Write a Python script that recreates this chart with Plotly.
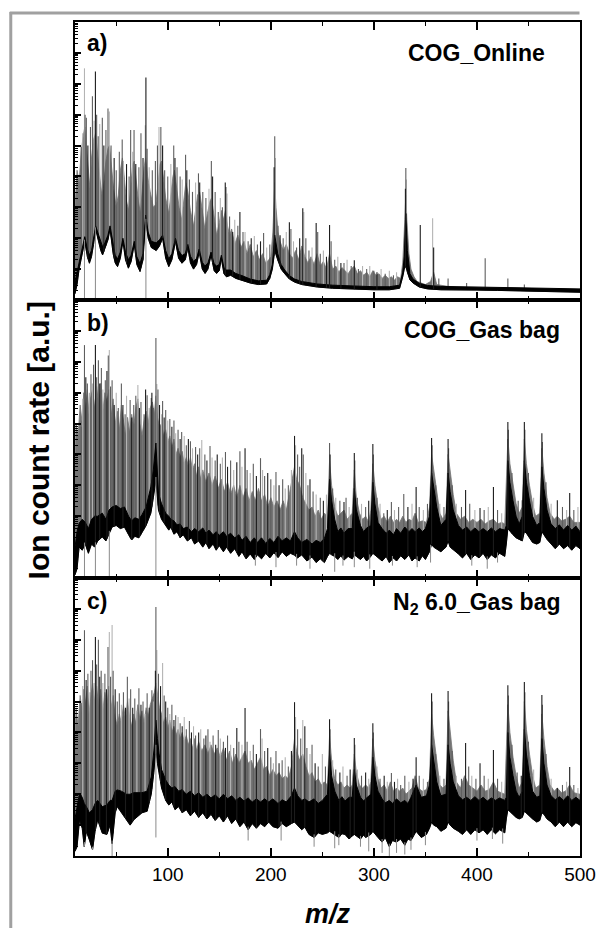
import numpy as np
import plotly.graph_objects as go
from plotly.subplots import make_subplots

MZ_RANGE = [10, 500]
X_TICKS = [100, 200, 300, 400, 500]
PANEL_LABELS = ["a)", "b)", "c)"]
PANEL_TITLES = ["COG_Online", "COG_Gas bag", "N<sub>2</sub> 6.0_Gas bag"]

# ---------------- Panel a : COG_Online ----------------
# noise band: (m/z, lower log10, upper log10)
a_band = [(10, 0.2, 0.6), (12, 0.5, 0.9), (14, 1.0, 1.3), (17, 1.5, 1.75), (19.5, 1.9, 2.05), (22, 1.4, 1.65),
          (24, 1.19, 1.45), (26, 1.4, 1.6), (28, 1.8, 1.95), (30, 2.3, 2.4), (33, 1.9, 2.1), (35, 1.6, 1.85),
          (36.8, 1.46, 1.72), (39, 1.65, 1.85), (42, 1.95, 2.1), (44, 2.3, 2.4), (47, 1.5, 1.75), (49, 1.2, 1.45),
          (51.3, 1.08, 1.33), (54, 1.35, 1.55), (56.5, 1.9, 2.0), (59, 1.3, 1.55), (61.8, 1.03, 1.3),
          (64.5, 1.25, 1.45), (67.5, 1.8, 1.9), (70, 1.15, 1.4), (73.1, 0.92, 1.18), (76, 1.3, 1.5),
          (78.5, 2.6, 2.75), (81, 2.0, 2.2), (84, 1.7, 1.9), (88.8, 1.6, 1.85), (92, 1.75, 1.95), (95, 2.0, 2.1),
          (98, 1.35, 1.6), (101, 1.08, 1.33), (104, 1.3, 1.5), (107.5, 1.9, 2.0), (110.5, 1.35, 1.6),
          (113.8, 1.19, 1.44), (117, 1.3, 1.5), (119.5, 1.7, 1.8), (122, 1.2, 1.42), (125, 1.0, 1.25),
          (128, 1.15, 1.35), (130.5, 1.55, 1.65), (133.5, 1.0, 1.22), (136.2, 0.86, 1.1), (139, 1.0, 1.2),
          (142, 1.45, 1.55), (145, 0.95, 1.17), (147.4, 0.86, 1.1), (150, 0.95, 1.15), (152, 1.35, 1.45),
          (154.5, 0.85, 1.05), (157, 0.75, 0.97), (161, 0.8, 0.97), (166, 0.7, 0.86), (172, 0.65, 0.79),
          (180, 0.55, 0.68), (188, 0.5, 0.62), (196, 0.52, 0.64), (199, 0.7, 0.82), (201.5, 1.0, 1.15),
          (203.8, 1.6, 2.1), (205, 1.5, 1.8), (206.7, 1.3, 1.5), (210, 1.0, 1.15), (213.5, 0.85, 0.97),
          (218, 0.68, 0.79), (223, 0.58, 0.68), (230, 0.5, 0.6), (245, 0.42, 0.52), (260, 0.38, 0.48),
          (280, 0.35, 0.45), (300, 0.33, 0.43), (315, 0.33, 0.43), (325, 0.38, 0.48), (328, 0.75, 0.9),
          (329.5, 1.0, 1.4), (331, 1.1, 2.8), (332.5, 0.9, 1.6), (335, 0.65, 0.85), (338, 0.55, 0.68),
          (344, 0.42, 0.54), (352, 0.36, 0.47), (365, 0.33, 0.44), (380, 0.32, 0.43), (400, 0.32, 0.43),
          (420, 0.31, 0.42), (440, 0.3, 0.41), (460, 0.28, 0.39), (480, 0.27, 0.38), (500, 0.25, 0.36)]
# upper edge of the dense gray signal: (m/z, log10)
a_bulk = [(10, 3.0), (12, 4.2), (14, 3.8), (16, 4.8), (18, 5.3), (19.5, 5.6), (21, 5.0), (23, 4.3), (24.5, 3.6),
          (26, 4.6), (28, 5.2), (30, 5.4), (32, 4.6), (34, 4.0), (36, 3.4), (37.5, 3.6), (40, 4.5), (42, 4.9),
          (43.5, 5.0), (45.5, 4.3), (47.5, 3.6), (50, 3.0), (52, 3.4), (54, 4.2), (56, 4.6), (58, 3.9), (60, 3.2),
          (62, 2.9), (64, 3.8), (66, 4.4), (67.5, 4.5), (69.5, 3.8), (71.5, 3.2), (73.5, 2.8), (75, 3.5),
          (77, 4.3), (78.5, 4.6), (80.5, 4.0), (83, 3.5), (86, 3.0), (88.5, 3.1), (90.5, 3.8), (92.5, 4.4),
          (94, 4.5), (96, 3.9), (98, 3.3), (101, 2.8), (103, 3.4), (105, 4.0), (106.5, 4.2), (108.5, 3.6),
          (111, 3.0), (113.5, 2.6), (115.5, 3.3), (117.5, 3.8), (119.5, 3.5), (122, 2.9), (125, 2.4), (127, 3.0),
          (129, 3.4), (131, 3.5), (133.5, 2.9), (136, 2.3), (138.5, 2.8), (141, 3.2), (142.5, 3.3), (145, 2.7),
          (147.5, 2.1), (150, 2.5), (152, 2.9), (154, 2.6), (156, 2.9), (158, 2.4), (160, 2.1), (162, 2.3),
          (165, 1.8), (168, 2.1), (171, 1.7), (174, 1.9), (177, 1.5), (180, 1.8), (183, 1.4), (186, 1.6),
          (189, 1.3), (192, 1.5), (195, 1.2), (198, 1.3), (200, 1.4), (202, 2.2), (203.8, 3.8), (205, 3.0),
          (207, 2.2), (209, 1.9), (212, 1.6), (215, 1.8), (218, 1.5), (221, 1.35), (224, 1.6), (227, 1.3),
          (230, 1.75), (233, 1.4), (236, 1.2), (239, 1.4), (242, 1.15), (245, 1.5), (248, 1.1), (251, 1.25),
          (254, 1.0), (257, 1.5), (260, 1.0), (263, 1.1), (266, 0.9), (269, 1.05), (272, 0.95), (275, 0.85),
          (278, 1.0), (281, 1.1), (284, 0.85), (287, 0.95), (290, 0.8), (293, 0.9), (296, 0.75), (299, 0.95),
          (302, 0.8), (305, 0.85), (308, 0.7), (311, 0.8), (314, 0.7), (317, 0.75), (320, 0.65), (323, 0.75),
          (326, 0.7), (328, 1.2), (330, 2.6), (331, 3.4), (332, 2.6), (334, 1.5), (336, 1.0), (339, 0.75),
          (342, 0.6), (346, 0.55), (350, 0.5), (355, 0.6), (358, 0.9), (361, 0.5), (370, 0.45), (380, 0.42),
          (400, 0.42), (420, 0.4), (440, 0.38), (460, 0.36), (480, 0.35), (500, 0.33)]
a_scan_light = [(17.5, 5.4), (19.2, 7.5), (28.5, 5.8), (34, 5.7), (43.3, 6.1), (57, 4.5), (66, 4.8), (78.2, 5.66),
                (82, 4.3), (91.5, 5.6), (103, 4.4), (114, 3.9), (127, 3.8), (140, 3.6), (151, 3.3), (157.5, 3.45),
                (165, 2.6), (175, 2.2), (184, 2.07), (196, 1.7), (204.5, 4.6), (215, 2.2), (222, 1.9), (232, 2.85),
                (240, 1.7), (251, 1.6), (265, 1.4), (274, 1.3), (289, 1.1), (296, 1.1), (307, 1.0), (315, 0.95),
                (322, 0.9), (331.5, 3.9), (357, 2.65)]
a_scan_mid = [(16, 4.95), (19.8, 6.0), (21, 5.9), (25, 5.6), (26.9, 6.6), (31, 6.0), (32.5, 5.3), (36.5, 5.9),
              (40, 5.5), (42, 6.2), (45, 5.0), (50, 4.2), (53, 4.8), (55.8, 5.2), (62.5, 4.0), (64, 5.5),
              (67.3, 5.5), (72, 4.3), (74, 5.4), (80, 4.9), (85, 4.2), (88, 4.5), (90, 5.0), (93.3, 5.6), (97, 4.2),
              (100, 4.0), (105.8, 5.0), (109, 4.3), (112, 4.0), (117.3, 4.7), (121, 3.9), (124, 3.5), (129.8, 4.1),
              (134, 3.5), (137, 3.3), (142.3, 4.5), (146, 3.5), (149, 2.85), (153, 3.0), (156.5, 3.66), (160, 2.7),
              (168, 2.4), (173, 2.2), (178, 1.9), (187, 1.8), (193, 2.17), (199, 1.8), (203.8, 5.3), (207, 2.4),
              (212, 2.0), (219.5, 2.3), (225, 1.7), (234, 2.0), (237, 1.6), (245.5, 2.2), (248, 1.5),
              (258.5, 1.9), (262, 1.3), (271, 1.2), (278, 1.1), (285, 1.0), (293, 1.0), (300, 0.95), (311, 0.85),
              (319, 0.8), (331, 4.27), (363, 0.7), (372, 0.7), (390, 0.55), (408, 1.35), (430, 0.7), (446, 0.5)]
a_scan_dark = [(22.5, 5.0), (29.8, 7.4), (38, 5.0), (48, 4.6), (60, 4.4), (69, 4.4), (76, 4.6), (78.8, 7.2),
               (95, 5.0), (107, 4.6), (118.5, 4.2), (131, 3.8), (143.5, 4.0), (155.8, 3.8), (163, 2.2), (170, 2.85),
               (181, 2.0), (190, 1.9), (203.2, 4.3), (209, 2.1), (218, 2.52), (228, 2.0), (231, 2.97), (244, 2.49),
               (254, 1.4), (257, 2.43), (268, 1.2), (281, 1.29), (303, 0.9), (330.6, 3.6), (345, 2.43), (358, 1.7)]
a_dips = [(19.2, -0.3), (29.8, -0.3), (78.8, -0.3)]

# ---------------- Panel b : COG_Gas bag ----------------
b_band = [(10, 0.1, 1.0), (12, 0.3, 1.5), (14, 1.0, 1.77), (17, 0.9, 1.9), (20, 1.1, 1.8), (23, 0.8, 1.6),
          (26, 1.1, 1.9), (29, 1.0, 2.0), (32, 1.2, 2.0), (36.5, 1.33, 2.1), (40, 1.2, 1.9), (43, 1.4, 2.2),
          (46, 1.65, 2.3), (50, 1.7, 2.35), (54, 1.6, 2.25), (58, 1.65, 2.3), (62, 1.4, 2.0), (65, 1.23, 1.85),
          (68, 1.35, 1.95), (72, 1.3, 1.9), (75, 1.46, 2.05), (79, 1.7, 2.3), (83.6, 2.1, 2.95), (86, 2.6, 3.5),
          (88.5, 3.17, 4.37), (90, 2.5, 3.3), (91, 2.2, 2.75), (94, 1.9, 2.4), (98, 1.72, 2.1), (101, 1.55, 2.0),
          (103, 1.65, 1.9), (106, 1.42, 1.85), (109, 1.5, 1.72), (112, 1.3, 1.75), (115, 1.4, 1.6),
          (119, 1.2, 1.65), (123, 1.3, 1.5), (126, 1.1, 1.6), (130, 1.2, 1.5), (134, 1.0, 1.62), (137, 1.15, 1.45),
          (140, 0.95, 1.55), (144, 1.1, 1.4), (147, 0.9, 1.5), (150, 1.05, 1.38), (154, 0.85, 1.5),
          (157, 1.0, 1.35), (161, 0.8, 1.45), (165, 0.95, 1.3), (169, 0.7, 1.4), (172, 0.85, 1.22),
          (176, 0.62, 1.35), (180, 0.78, 1.15), (184, 0.6, 1.3), (187, 0.75, 1.15), (191, 0.62, 1.3),
          (195, 0.8, 1.12), (199, 0.65, 1.28), (203, 0.82, 1.15), (207, 0.66, 1.35), (211, 0.85, 1.2),
          (215, 0.7, 1.3), (219, 0.8, 1.2), (223, 0.74, 1.5), (226, 0.65, 1.3), (230, 0.75, 1.15),
          (235, 0.55, 1.25), (240, 0.68, 1.1), (244, 0.5, 1.22), (248, 0.62, 1.15), (252, 0.5, 1.28),
          (255, 0.7, 1.6), (257, 0.8, 3.2), (259, 0.75, 2.5), (262, 0.7, 1.9), (265, 0.6, 1.5), (268, 0.72, 1.62),
          (271, 0.58, 1.45), (275, 0.7, 1.6), (279, 0.62, 1.6), (281, 0.75, 2.9), (283, 0.7, 2.2), (287, 0.6, 1.7),
          (290, 0.7, 1.5), (293, 0.55, 1.62), (297, 0.7, 1.7), (299, 0.8, 3.1), (301, 0.75, 2.4),
          (304, 0.65, 1.8), (308, 0.55, 1.6), (312, 0.7, 1.45), (315, 0.5, 1.55), (319, 0.65, 1.4),
          (322, 0.55, 1.6), (326, 0.72, 1.45), (330, 0.6, 1.65), (334, 0.75, 1.5), (337, 0.55, 1.6),
          (340, 0.65, 1.5), (344, 0.55, 1.62), (347, 0.72, 1.5), (350, 0.6, 1.6), (354, 0.85, 2.0),
          (356, 1.1, 3.4), (358, 1.0, 2.9), (361, 0.95, 2.3), (365, 0.85, 1.7), (370, 1.0, 1.9), (372, 1.2, 3.4),
          (374, 1.0, 2.8), (377, 0.9, 2.2), (382, 0.78, 1.7), (386, 0.65, 1.55), (390, 0.8, 1.65),
          (394, 0.6, 1.5), (398, 0.75, 1.62), (402, 0.65, 1.5), (406, 0.8, 1.6), (410, 0.6, 1.5),
          (414, 0.75, 1.62), (418, 0.65, 1.5), (422, 0.8, 1.6), (427, 0.7, 1.55), (428.5, 1.1, 1.7),
          (430, 1.6, 3.8), (432, 1.5, 3.1), (435, 1.4, 2.5), (438, 1.3, 2.0), (441, 1.25, 1.75), (444, 1.2, 2.0),
          (446, 1.5, 3.8), (448, 1.45, 3.1), (451, 1.3, 2.5), (454, 1.15, 2.0), (458, 1.1, 1.7), (461, 1.15, 1.8),
          (463, 1.5, 3.6), (465, 1.4, 2.9), (468, 1.25, 2.2), (472, 1.1, 1.75), (476, 0.95, 1.6),
          (480, 1.1, 1.72), (484, 0.95, 1.55), (488, 1.05, 1.7), (492, 0.9, 1.55), (496, 1.05, 1.68),
          (500, 0.95, 1.5)]
b_bulk = [(10, 3.5), (11, 5.0), (13, 4.6), (15, 5.6), (17, 5.0), (18.5, 6.0), (20, 5.4), (22, 6.1), (23.5, 5.3),
          (25, 5.8), (27, 6.1), (29, 5.5), (31, 6.2), (33, 5.6), (35, 6.3), (37, 5.4), (39, 6.0), (41, 5.7),
          (43, 6.1), (45, 5.2), (47, 5.8), (49, 5.0), (51, 5.4), (53, 4.8), (55, 5.6), (57, 5.0), (59, 4.6),
          (61, 5.2), (63, 4.7), (65, 5.3), (67, 4.9), (69, 5.5), (71, 5.8), (73, 5.0), (75, 4.6), (77, 5.1),
          (79, 5.4), (81, 5.0), (83, 5.5), (85, 5.7), (87, 5.3), (88.5, 5.9), (90, 5.2), (92, 4.9), (94, 5.0),
          (96, 4.6), (98, 4.8), (100, 4.4), (102, 4.6), (104, 4.2), (106, 4.5), (108, 4.0), (110, 4.2), (112, 3.9),
          (114, 4.1), (116, 3.7), (118, 3.9), (120, 3.6), (122, 3.9), (124, 3.5), (126, 3.7), (128, 3.3),
          (130, 3.6), (132, 3.2), (134, 3.5), (137, 3.1), (140, 3.4), (143, 3.0), (146, 3.3), (149, 2.9),
          (152, 3.2), (155, 2.8), (158, 3.1), (161, 2.7), (164, 3.0), (167, 2.6), (170, 3.0), (173, 2.6),
          (176, 2.9), (179, 2.5), (182, 2.8), (185, 2.5), (188, 2.9), (191, 2.5), (194, 2.7), (197, 2.3),
          (200, 2.6), (203, 2.3), (206, 2.5), (209, 2.2), (212, 2.5), (215, 2.2), (218, 2.7), (221, 3.2),
          (223, 3.6), (225, 3.2), (228, 3.0), (231, 2.6), (234, 2.4), (237, 2.2), (240, 2.3), (243, 2.0),
          (246, 2.2), (249, 1.9), (252, 2.1), (255, 2.0), (257, 3.8), (259, 3.0), (262, 2.3), (265, 2.0),
          (268, 2.1), (271, 2.2), (274, 1.9), (277, 2.0), (279, 2.1), (281, 3.5), (283, 2.6), (286, 2.1),
          (289, 1.9), (292, 2.0), (295, 1.8), (297, 2.2), (299, 3.7), (301, 3.0), (304, 2.3), (307, 1.9),
          (310, 2.0), (313, 1.8), (316, 2.0), (319, 1.8), (322, 1.9), (325, 1.8), (328, 2.0), (331, 1.8),
          (334, 1.9), (337, 1.85), (340, 2.1), (343, 1.8), (347, 1.85), (351, 1.8), (354, 2.3), (356, 4.0),
          (358, 3.5), (361, 2.8), (364, 2.1), (367, 1.9), (370, 2.1), (372, 4.0), (374, 3.4), (377, 2.7),
          (380, 2.1), (384, 1.9), (388, 2.0), (392, 1.8), (396, 1.9), (400, 1.8), (404, 1.9), (408, 1.75),
          (412, 1.85), (416, 1.9), (420, 1.75), (424, 1.8), (427, 1.75), (430, 4.5), (432, 3.7), (435, 3.0),
          (438, 2.4), (441, 2.1), (444, 2.3), (446, 4.5), (448, 3.7), (451, 3.0), (454, 2.4), (457, 2.0),
          (461, 2.1), (463, 4.2), (465, 3.4), (468, 2.6), (471, 2.1), (475, 1.9), (478, 2.0), (482, 1.85),
          (486, 1.9), (490, 2.0), (494, 1.8), (500, 1.8)]
b_scan_light = [(17.5, 5.8), (24, 6.0), (26.9, 6.3), (37, 6.1), (43.3, 7.38), (50, 6.0), (60, 5.9), (71, 6.25),
                (82, 5.5), (89.4, 6.28), (94, 5.3), (100, 5.1), (107.7, 4.69), (116, 4.6), (124, 4.2), (133, 4.47),
                (143, 3.9), (153, 3.9), (164, 3.5), (172, 3.6), (180, 3.4), (192, 3.5), (203, 3.0), (214, 2.9),
                (220, 3.5), (224, 4.3), (234, 3.4), (244, 2.7), (254, 2.7), (263, 2.6), (276, 2.3), (288, 2.4),
                (306, 2.4), (320, 2.2), (337, 2.4), (348, 2.2), (364, 2.4), (380, 2.4), (398, 2.2), (411, 2.3),
                (424, 2.1), (455, 2.6), (472, 2.4), (487, 2.2), (498, 2.3)]
b_scan_mid = [(16, 4.9), (19.2, 7.54), (22, 6.3), (25.5, 6.6), (28, 6.9), (31, 6.5), (32.7, 7.05), (35.6, 6.8),
              (39.4, 6.4), (42.3, 7.2), (44.5, 6.2), (46, 6.4), (52, 5.5), (55, 6.3), (58.6, 5.3), (63.5, 5.76),
              (67, 5.6), (69, 5.9), (74, 5.7), (77, 5.3), (80, 5.92), (84, 5.83), (86, 5.5), (88.5, 7.77),
              (90.5, 6.1), (95, 5.73), (98, 5.44), (102, 5.15), (106, 5.1), (110, 4.8), (113.5, 4.73), (118, 4.3),
              (122, 4.43), (127, 4.24), (131, 4.2), (136, 4.0), (141, 4.27), (146, 3.8), (151, 3.7), (156, 4.08),
              (161, 3.8), (170, 4.1), (177, 3.5), (183, 3.7), (190, 3.88), (194, 3.3), (200, 3.2), (205, 3.43),
              (211.5, 3.2), (217, 3.0), (226, 4.0), (228, 3.6), (231.5, 4.0), (236, 3.0), (241, 2.8), (248, 2.6),
              (257, 4.37), (260, 2.9), (267, 2.5), (273, 2.6), (281.5, 3.8), (284, 2.6), (292, 2.3), (299.5, 4.0),
              (303, 2.6), (309.6, 2.1), (317, 2.46), (324, 2.3), (329, 2.72), (344, 2.3), (352, 2.4),
              (356.5, 4.3), (360, 3.0), (368, 2.3), (372.5, 4.2), (376, 3.0), (385, 2.3), (393, 2.4), (407, 2.2),
              (420, 2.2), (430.5, 4.8), (434, 3.4), (440, 2.5), (446.5, 4.8), (450, 3.4), (463.5, 4.4),
              (467, 3.1), (483, 2.3), (494, 2.2)]
b_scan_dark = [(20.5, 6.5), (29.8, 7.54), (34, 6.3), (41, 6.7), (48, 5.6), (56.5, 5.6), (65, 5.2), (72.5, 5.5),
               (78.5, 6.1), (84.6, 6.0), (92, 5.6), (96.5, 5.2), (104, 4.9), (112, 4.5), (120, 4.5), (129, 4.0),
               (138, 3.8), (148, 4.0), (158, 3.6), (167, 3.75), (175, 4.2), (186, 3.3), (197, 3.4), (208, 3.0),
               (223, 4.6), (230, 4.2), (238, 3.2), (251, 2.5), (257.5, 4.0), (271, 2.46), (281, 4.05), (295, 2.5),
               (299, 4.34), (313, 2.2), (333, 2.3), (341, 2.95), (356, 4.53), (372, 4.5), (389, 2.85),
               (403, 2.27), (416, 2.95), (430, 5.05), (444, 2.52), (446, 5.05), (463, 4.69), (478, 2.52),
               (490, 2.75)]
b_dips = [(19.2, -0.3), (29.8, -0.3), (43.3, -0.3), (88.5, -0.3), (185, 0.4), (205, 0.35), (225, 0.4), (238, 0.3),
          (262, 0.2), (270, 0.4), (281, 0.35), (296, 0.3), (318, 0.4), (342, 0.35), (355, 0.5), (395, 0.4),
          (410, 0.3), (420, 0.5)]

# ---------------- Panel c : N2 6.0_Gas bag ----------------
c_band = [(10, 0.15, 1.2), (12, 0.3, 1.6), (14.4, 1.17, 2.04), (17, 0.9, 1.9), (19, 0.3, 1.7), (21, 0.8, 1.6),
          (24, 0.52, 1.4), (27, 0.2, 1.5), (29.5, 0.8, 1.7), (32, 1.17, 1.8), (36.5, 0.74, 1.6), (41, 0.7, 1.65),
          (44, 1.0, 1.8), (46, 0.4, 1.8), (49, 1.4, 2.1), (51, 1.6, 2.14), (55, 1.4, 2.1), (60, 1.17, 2.0),
          (63.5, 1.0, 2.0), (67, 1.17, 2.05), (71, 1.3, 2.05), (75, 1.4, 2.05), (80, 1.45, 2.1), (84, 2.0, 2.56),
          (86.5, 2.7, 3.4), (88.5, 3.5, 4.4), (90, 3.0, 3.8), (91.5, 2.69, 3.33), (94, 2.2, 2.8), (98, 1.8, 2.46),
          (101, 1.65, 2.3), (104, 1.75, 2.2), (107, 1.5, 2.25), (110.6, 1.6, 2.1), (114, 1.4, 2.15),
          (118, 1.5, 2.0), (122, 1.3, 2.1), (126, 1.45, 1.95), (130, 1.25, 2.05), (134, 1.4, 1.9),
          (138, 1.2, 2.0), (142, 1.35, 1.88), (146, 1.15, 1.98), (150, 1.3, 1.85), (154, 1.1, 2.0),
          (158, 1.3, 1.85), (162, 1.05, 1.95), (166, 1.2, 1.8), (170, 0.95, 1.9), (174, 1.1, 1.78),
          (178, 0.85, 1.88), (182, 1.05, 1.75), (186, 0.9, 1.85), (190, 1.05, 1.75), (194, 0.95, 1.85),
          (198, 1.1, 1.75), (202, 0.95, 1.85), (207, 0.9, 1.7), (211, 1.05, 1.82), (215, 0.95, 1.75),
          (220, 1.05, 1.95), (223, 1.1, 2.2), (226, 1.0, 1.95), (230, 0.85, 1.8), (233, 0.94, 1.85),
          (237, 0.7, 1.75), (242, 0.6, 1.85), (246, 0.75, 1.7), (250, 0.7, 1.8), (255, 0.75, 2.0), (257, 0.8, 3.3),
          (259, 0.75, 2.6), (262, 0.7, 2.1), (266, 0.6, 1.8), (269, 0.72, 1.92), (272, 0.7, 1.78),
          (276, 0.55, 1.9), (279, 0.65, 1.9), (281, 0.7, 2.8), (283, 0.65, 2.3), (287, 0.55, 1.9),
          (290, 0.68, 1.78), (292, 0.6, 1.85), (297, 0.7, 2.0), (299, 0.8, 3.2), (301, 0.7, 2.6), (304, 0.6, 2.1),
          (308, 0.45, 1.85), (311, 0.6, 1.72), (315, 0.3, 1.8), (318, 0.5, 1.7), (322, 0.45, 1.85),
          (326, 0.55, 1.72), (330, 0.35, 1.8), (333, 0.55, 1.7), (336, 0.5, 1.9), (341, 0.8, 2.3), (346, 0.6, 1.9),
          (351, 0.7, 1.95), (354, 0.9, 2.3), (356, 1.1, 3.6), (358, 1.0, 3.1), (361, 0.95, 2.4), (365, 0.8, 1.95),
          (370, 0.9, 2.0), (372, 1.1, 3.6), (374, 1.0, 3.0), (377, 0.9, 2.4), (382, 0.8, 1.95), (386, 0.7, 1.82),
          (390, 0.85, 1.9), (394, 0.7, 1.8), (398, 0.85, 1.92), (402, 0.75, 1.8), (406, 0.85, 1.9),
          (410, 0.7, 1.78), (414, 0.85, 1.88), (418, 0.72, 1.8), (422, 0.85, 1.88), (427, 0.75, 1.8),
          (428.5, 1.2, 1.9), (430, 1.5, 4.0), (432, 1.45, 3.2), (435, 1.35, 2.6), (438, 1.25, 2.1),
          (441, 1.2, 1.9), (444, 1.25, 2.1), (446, 1.45, 4.1), (448, 1.4, 3.3), (451, 1.3, 2.6), (454, 1.2, 2.1),
          (458, 1.1, 1.9), (461, 1.15, 1.95), (463, 1.4, 3.8), (465, 1.35, 3.0), (468, 1.2, 2.3),
          (472, 1.1, 1.95), (476, 0.95, 1.82), (480, 1.1, 1.92), (484, 0.95, 1.8), (488, 1.1, 1.95),
          (492, 0.95, 1.8), (496, 1.08, 1.9), (500, 1.0, 1.8)]
c_bulk = [(10, 3.8), (11, 4.8), (13, 4.2), (15, 5.2), (17, 4.6), (18.5, 5.4), (20, 4.9), (22, 5.5), (23.5, 4.6),
          (25, 5.0), (27, 5.6), (29, 5.0), (31, 5.5), (33, 4.8), (35, 5.4), (37, 4.7), (39, 5.3), (41, 4.9),
          (43, 5.5), (45, 4.8), (47, 5.2), (49, 4.5), (51, 4.2), (53, 4.6), (55, 4.3), (57, 4.9), (59, 4.4),
          (61, 5.0), (63, 4.5), (65, 4.2), (67, 4.6), (69, 4.3), (71, 4.9), (73, 4.4), (75, 4.7), (77, 4.3),
          (79, 4.8), (81, 4.5), (83, 4.9), (85, 5.1), (87, 5.3), (88.5, 5.6), (90, 5.2), (92, 4.8), (94, 4.6),
          (96, 4.3), (98, 4.5), (100, 4.1), (102, 4.4), (104, 4.0), (106, 4.2), (108, 3.9), (110, 4.1), (112, 3.8),
          (114, 4.0), (116, 3.7), (118, 3.9), (120, 3.6), (122, 3.8), (124, 3.5), (126, 3.8), (128, 3.4),
          (130, 3.7), (133, 3.4), (136, 3.6), (139, 3.3), (142, 3.6), (145, 3.3), (148, 3.5), (151, 3.2),
          (154, 3.5), (157, 3.1), (160, 3.4), (163, 3.0), (166, 3.3), (169, 3.0), (172, 3.2), (175, 3.4),
          (178, 3.0), (181, 3.1), (184, 2.8), (187, 3.0), (190, 3.2), (193, 2.8), (196, 2.9), (199, 2.6),
          (202, 2.8), (205, 2.6), (208, 2.7), (211, 2.5), (214, 2.6), (217, 2.5), (220, 2.9), (223, 3.8),
          (225, 3.4), (228, 3.1), (231, 3.3), (234, 2.9), (237, 2.6), (240, 2.7), (243, 2.4), (246, 2.5),
          (249, 2.3), (252, 2.4), (255, 2.3), (257, 3.9), (259, 3.1), (262, 2.5), (265, 2.3), (268, 2.4),
          (271, 2.2), (274, 2.3), (277, 2.2), (279, 2.3), (281, 3.3), (283, 2.7), (286, 2.3), (289, 2.2),
          (292, 2.3), (295, 2.2), (297, 2.4), (299, 3.8), (301, 3.1), (304, 2.5), (307, 2.2), (310, 2.3),
          (313, 2.1), (316, 2.4), (319, 2.1), (322, 2.2), (325, 2.1), (328, 2.2), (331, 2.0), (334, 2.1),
          (337, 2.2), (340, 2.6), (343, 2.2), (347, 2.1), (351, 2.15), (354, 2.5), (356, 4.6), (358, 3.9),
          (361, 3.0), (364, 2.3), (367, 2.2), (370, 2.3), (372, 4.7), (374, 4.0), (377, 3.1), (380, 2.4),
          (384, 2.2), (388, 2.6), (392, 2.3), (396, 2.2), (400, 2.1), (404, 2.3), (408, 2.1), (412, 2.15),
          (416, 2.4), (420, 2.1), (424, 2.05), (427, 2.0), (430, 4.9), (432, 4.0), (435, 3.2), (438, 2.6),
          (441, 2.2), (444, 2.4), (446, 5.0), (448, 4.1), (451, 3.3), (454, 2.6), (457, 2.2), (461, 2.3),
          (463, 4.6), (465, 3.8), (468, 2.9), (471, 2.3), (475, 2.1), (478, 2.2), (482, 2.05), (486, 2.1),
          (490, 2.3), (494, 2.05), (500, 2.0)]
c_scan_light = [(17.5, 5.5), (24.5, 5.3), (28.5, 5.6), (37, 5.6), (43.3, 7.25), (46, 7.48), (55, 4.9), (62.5, 5.1),
                (70, 4.7), (78, 4.6), (86, 5.0), (89.4, 6.67), (95, 6.25), (102, 4.6), (110, 4.5), (116, 4.5),
                (125, 4.2), (132, 4.1), (141, 3.7), (151, 3.8), (161, 3.6), (172, 3.6), (180, 3.4), (191.5, 3.8),
                (202.5, 3.0), (214, 3.2), (224, 4.5), (231, 4.4), (238, 3.3), (250, 3.3), (260, 3.1), (270, 2.9),
                (284, 2.8), (295, 2.5), (303, 2.9), (313, 2.4), (323, 2.5), (334, 2.4), (348, 2.5), (364, 2.6),
                (380, 2.6), (395, 2.6), (411, 2.5), (424, 2.4), (455, 2.8), (472, 2.5), (487, 2.4), (498, 2.2)]
c_scan_mid = [(16, 4.95), (19.2, 7.31), (22.5, 5.9), (25.5, 6.0), (27, 6.34), (31, 6.2), (32.7, 7.0), (35.4, 6.0),
              (39, 5.9), (42, 6.77), (44.5, 5.8), (47, 6.0), (51, 5.0), (53, 5.27), (57, 5.3), (60.8, 5.8),
              (64, 5.4), (68, 5.1), (72, 5.43), (76, 5.0), (80, 5.27), (84.6, 5.37), (88.5, 8.06), (91, 5.9),
              (96.5, 5.2), (100, 4.8), (104, 4.9), (107.7, 4.56), (112, 4.3), (118, 4.1), (121, 4.37), (127, 3.9),
              (135, 3.8), (139, 4.1), (144, 3.9), (149, 4.08), (154, 3.7), (158, 3.9), (164, 3.5), (169, 3.7),
              (177, 3.7), (183, 3.6), (190, 4.11), (194, 3.4), (200, 3.2), (205, 3.4), (211, 3.1), (217, 2.9),
              (226, 4.1), (229, 3.8), (235, 3.5), (240, 3.6), (246, 2.9), (253, 2.9), (257.5, 4.1), (263, 2.8),
              (274, 2.6), (281.5, 3.6), (288, 2.6), (299.5, 4.0), (306, 2.5), (317, 2.69), (326, 2.3), (330, 2.6),
              (344, 2.6), (352, 2.4), (356.5, 5.0), (360, 3.3), (368, 2.5), (372.5, 5.0), (376, 3.4), (385, 2.5),
              (392, 2.9), (399, 2.5), (407, 2.6), (420, 2.5), (430.5, 5.2), (434, 3.6), (439, 2.7), (446.5, 5.3),
              (450, 3.7), (463.5, 4.9), (467, 3.3), (483, 2.3), (494, 2.3)]
c_scan_dark = [(20.8, 5.7), (29.8, 7.09), (34, 5.8), (40.5, 5.4), (49, 5.4), (59, 4.8), (66, 4.8), (74, 4.9),
               (82, 4.8), (88, 6.0), (93, 5.5), (98, 5.0), (106, 4.4), (114, 4.2), (123, 4.0), (130, 4.0),
               (137, 3.9), (146.5, 3.6), (156, 3.5), (167, 4.14), (175, 4.79), (186, 3.3), (197, 3.5), (208, 3.0),
               (220, 3.4), (223, 4.98), (233, 4.2), (243, 3.0), (257, 4.43), (267, 2.7), (277, 2.8), (281, 3.82),
               (292, 2.7), (299, 4.3), (310, 2.6), (320, 2.4), (338, 2.5), (341, 3.2), (356, 5.27), (372, 5.34),
               (389, 3.66), (403, 3.0), (416, 3.43), (430, 5.53), (443, 2.6), (446, 5.63), (463, 5.21), (478, 2.2),
               (490, 2.88)]
c_dips = [(19.2, 0.3), (27, 0.2), (46, -0.3), (88.5, 0.6), (178, 0.5), (210, 0.5), (242, 0.3), (262, 0.25),
          (266, 0.35), (287, 0.3), (295, 0.15), (308, 0.1), (315, 0.0), (322, 0.1), (330, 0.05), (336, 0.2),
          (350, 0.35), (400, 0.5), (415, 0.55), (425, 0.4)]

PANELS = [
    dict(band=a_band, bulk=a_bulk, light=a_scan_light, mid=a_scan_mid, dark=a_scan_dark, dips=a_dips),
    dict(band=b_band, bulk=b_bulk, light=b_scan_light, mid=b_scan_mid, dark=b_scan_dark, dips=b_dips),
    dict(band=c_band, bulk=c_bulk, light=c_scan_light, mid=c_scan_mid, dark=c_scan_dark, dips=c_dips),
]

COL_FILL = "#747474"
COL_LIGHT = "#b4b4b4"
COL_MID = "#5e5e5e"
COL_DARK = "#1c1c1c"
COL_DIP = "#8a8a8a"


def p(v):
    return [10.0 ** float(x) for x in v]


def stick_xy(pairs, band_mz, band_lo):
    xs, ys = [], []
    for m, v in pairs:
        foot = float(np.interp(m, band_mz, band_lo))
        xs += [m, m, None]
        ys += [10 ** foot, 10 ** v, None]
    return xs, ys


def dip_xy(pairs, band_mz, band_lo):
    xs, ys = [], []
    for m, bottom in pairs:
        top = float(np.interp(m, band_mz, band_lo))
        xs += [m, m, None]
        ys += [10 ** bottom, 10 ** (top + 0.1), None]
    return xs, ys


fig = make_subplots(rows=3, cols=1, shared_xaxes=True, vertical_spacing=0)

for i, pan in enumerate(PANELS):
    r = i + 1
    bm = [t[0] for t in pan["band"]]
    lo = [t[1] for t in pan["band"]]
    hi = [t[2] for t in pan["band"]]
    em = [t[0] for t in pan["bulk"]]
    et = [t[1] for t in pan["bulk"]]
    # gray bulk of the spectrum
    fig.add_trace(go.Scatter(x=em + bm[::-1], y=p(et) + p(lo[::-1]),
                             mode="lines", fill="toself", fillcolor=COL_FILL,
                             line=dict(color=COL_FILL, width=0.8), hoverinfo="skip"), row=r, col=1)
    # light and mid-gray scans
    for key, col in (("light", COL_LIGHT), ("mid", COL_MID)):
        xs, ys = stick_xy(pan[key], bm, lo)
        fig.add_trace(go.Scatter(x=xs, y=ys, mode="lines", line=dict(color=col, width=1.1),
                                 hoverinfo="skip"), row=r, col=1)
    # black noise band
    fig.add_trace(go.Scatter(x=bm + bm[::-1], y=p(hi) + p(lo[::-1]),
                             mode="lines", fill="toself", fillcolor="#000000",
                             line=dict(color="#000000", width=1), hoverinfo="skip"), row=r, col=1)
    xs, ys = stick_xy(pan["dark"], bm, lo)
    fig.add_trace(go.Scatter(x=xs, y=ys, mode="lines", line=dict(color=COL_DARK, width=1.1),
                             hoverinfo="skip"), row=r, col=1)
    xs, ys = dip_xy(pan["dips"], bm, lo)
    fig.add_trace(go.Scatter(x=xs, y=ys, mode="lines", line=dict(color=COL_DIP, width=1),
                             hoverinfo="skip"), row=r, col=1)

    fig.update_xaxes(range=MZ_RANGE, row=r, col=1, showline=True, linecolor="black", linewidth=1.6,
                     mirror="allticks", ticks="inside", ticklen=8, tickwidth=1.5, tickcolor="black",
                     tickvals=X_TICKS, ticktext=[str(t) for t in X_TICKS],
                     minor=dict(ticks="inside", ticklen=4, tickwidth=1.3, tickcolor="black",
                                tickvals=[50, 150, 250, 350, 450]),
                     showgrid=False, zeroline=False, showticklabels=(r == 3),
                     tickfont=dict(family="Liberation Sans, Arial", size=19, color="black"))
    fig.update_yaxes(type="log", range=[0, 9], row=r, col=1, showline=True, linecolor="black", linewidth=2,
                     mirror=True, ticks="inside", ticklen=6, tickwidth=1.5, tickcolor="black", dtick=1,
                     minor=dict(ticks="inside", ticklen=3, tickwidth=1, tickcolor="black", dtick="D1"),
                     showgrid=False, zeroline=False, showticklabels=False)

W, H = 608, 933
L, R, T, B = 75, 22, 22, 77


def px_x(px):
    return (px - L) / (W - L - R)


def px_y(py):
    return (H - B - py) / (H - T - B)


label_y = [43, 323, 601]
title_y = [53, 330, 603]
title_xr = [553, 568, 569]
ann = []
for i in range(3):
    ann.append(dict(text="<b>%s</b>" % PANEL_LABELS[i], x=px_x(85), y=px_y(label_y[i]), xref="paper",
                    yref="paper", xanchor="left", yanchor="middle", showarrow=False,
                    font=dict(family="Liberation Sans, Arial", size=23, color="black")))
    ann.append(dict(text="<b>%s</b>" % PANEL_TITLES[i], x=px_x(title_xr[i]), y=px_y(title_y[i]), xref="paper",
                    yref="paper", xanchor="right", yanchor="middle", showarrow=False,
                    font=dict(family="Liberation Sans, Arial", size=23, color="black")))
ann.append(dict(text="<b>Ion count rate [a.u.]</b>", x=px_x(38), y=px_y(440), xref="paper", yref="paper",
                xanchor="center", yanchor="middle", textangle=-90, showarrow=False,
                font=dict(family="Liberation Sans, Arial", size=30, color="black")))
ann.append(dict(text="<b><i>m/z</i></b>", x=px_x(331), y=px_y(914), xref="paper", yref="paper",
                xanchor="center", yanchor="middle", showarrow=False,
                font=dict(family="Liberation Sans, Arial", size=27, color="black")))

# gray outer frame (left and top edges); kept left of the paper's right edge
shapes = [
    dict(type="line", xref="paper", yref="paper", x0=px_x(9), y0=px_y(13), x1=0.999, y1=px_y(13),
         line=dict(color="#a0a0a0", width=3)),
    dict(type="line", xref="paper", yref="paper", x0=px_x(10), y0=px_y(12), x1=px_x(10), y1=px_y(928),
         line=dict(color="#a0a0a0", width=3)),
]

fig.update_layout(width=W, height=H, margin=dict(l=L, r=R, t=T, b=B), showlegend=False,
                  plot_bgcolor="white", paper_bgcolor="white", annotations=ann, shapes=shapes,
                  font=dict(family="Liberation Sans, Arial", color="black"))

fig.write_html("out.html", config={"displayModeBar": False})
